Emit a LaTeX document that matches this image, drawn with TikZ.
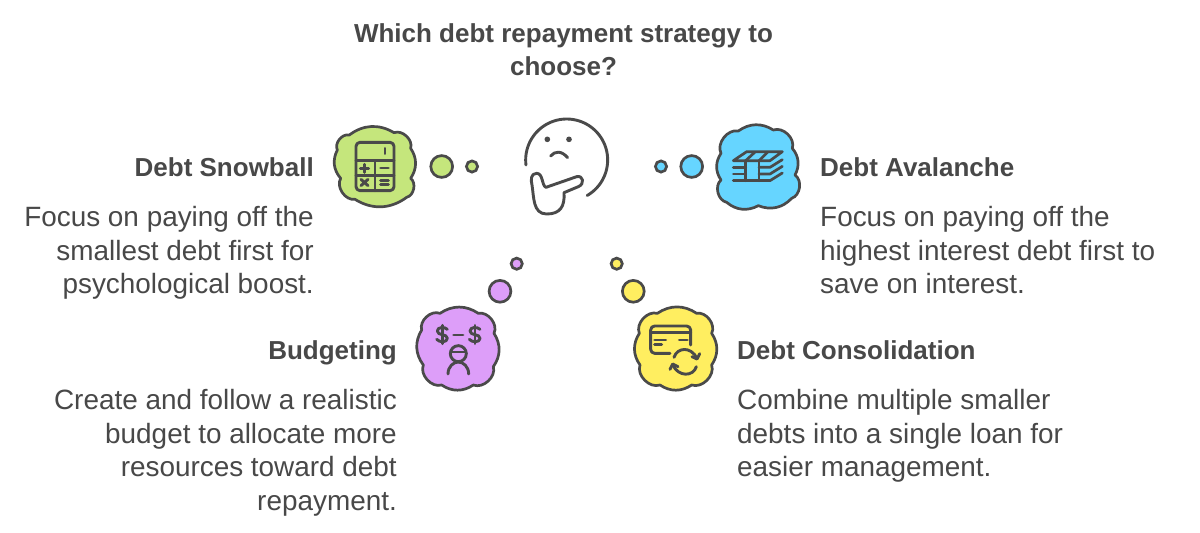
\documentclass[tikz,border=0pt]{standalone}
\usepackage{fontspec}
\setmainfont{Liberation Sans}
\definecolor{ink}{HTML}{4A4A4A}
\definecolor{txt}{HTML}{484848}
\definecolor{cgreen}{HTML}{C5E67C}
\definecolor{cblue}{HTML}{66D5FF}
\definecolor{cpurple}{HTML}{DD9EF9}
\definecolor{cyellow}{HTML}{FFEE60}
\tikzset{
  cloudshape/.style={draw=ink,line width=2.7pt,line join=round},
  glyph/.style={draw=ink,line width=2.9pt,line cap=round,line join=round},
  thin glyph/.style={draw=ink,line width=2.7pt,line cap=round,line join=round},
  bubble/.style={draw=ink,line width=2.7pt},
  facepen/.style={draw=ink,line width=2.9pt,line cap=round,line join=round},
  zoomframe/.style={x=0.33333pt,y=-0.33333pt},
  bodytext/.style={inner sep=0pt,text=txt,font=\fontsize{27.9}{33.5}\selectfont},
  headtext/.style={inner sep=0pt,text=txt,font=\fontsize{26}{33.5}\selectfont\bfseries},
  b/.style={bend left=34},
  c/.style={bend left=64}
}
\begin{document}
\begin{tikzpicture}[x=1pt,y=-1pt]
\useasboundingbox (0,0) rectangle (1200,533);
\fill[white] (0,0) rectangle (1200,533);

% title
\node[headtext,align=center,anchor=north] (title) at (563.5,23) {Which debt repayment strategy to\\choose?};

% labels
\node[headtext,anchor=base east] (snowhead) at (314,176) {Debt Snowball};
\node[bodytext,align=right,anchor=north east] (snowbody) at (314,206.4) {Focus on paying off the\\smallest debt first for\\psychological boost.};
\node[headtext,anchor=base west] (avahead) at (820,176) {Debt Avalanche};
\node[bodytext,align=left,anchor=north west] (avabody) at (820,206.4) {Focus on paying off the\\highest interest debt first to\\save on interest.};
\node[headtext,anchor=base east] (budhead) at (397,359) {Budgeting};
\node[bodytext,align=right,anchor=north east] (budbody) at (397,389.4) {Create and follow a realistic\\budget to allocate more\\resources toward debt\\repayment.};
\node[headtext,anchor=base west] (conhead) at (737,359) {Debt Consolidation};
\node[bodytext,align=left,anchor=north west] (conbody) at (737,389.4) {Combine multiple smaller\\debts into a single loan for\\easier management.};

% thinking face
\begin{scope}[shift={(510,110)},zoomframe]
  \draw[facepen] plot[domain=173:420,samples=70] ({170+123*cos(\x)},{150+123*sin(\x)});
  \fill[ink] (112,88) circle[radius=8.5];
  \fill[ink] (177,88) circle[radius=8.5];
  \draw[facepen] (122,138) .. controls (135,122) and (155,122) .. (173,143);
  \draw[facepen] (108,232) .. controls (95,228) and (100,190) .. (80,190)
     .. controls (62,190) and (62,210) .. (66,225)
     .. controls (72,260) and (68,312) .. (110,312)
     .. controls (150,312) and (165,290) .. (162,248)
     -- (205,230) .. controls (225,222) and (220,195) .. (200,200) -- cycle;
\end{scope}

% Debt Snowball cloud
\begin{scope}[shift={(320,110)},zoomframe]
  \draw[cloudshape,fill=cgreen] (88,75) to[b] (222,68) to[c] (272,115) to[b] (272,205) to[c] (260,262)
     to[b] (105,268) to[c] (62,205) to[b] (52,120) to[c] (88,75) -- cycle;
  \draw[glyph,rounded corners=4pt] (108,97) rectangle (222,242);
  \draw[glyph] (108,152) -- (222,152) (108,197) -- (222,197) (165,152) -- (165,242);
  \draw[glyph] (195,115) -- (195,131);
  \draw[glyph] (121,175) -- (146,175) (133,163) -- (133,187);
  \draw[glyph] (182,174) -- (205,174);
  \draw[glyph] (123,208) -- (144,227) (144,208) -- (123,227);
  \draw[glyph] (182,211) -- (205,211) (182,224) -- (205,224);
\end{scope}
\fill[cgreen,bubble] (441.7,166.5) circle[radius=10.9];
\fill[cgreen,bubble] (472,166.5) circle[radius=5.6];

% Debt Avalanche cloud
\begin{scope}[shift={(645,115)},zoomframe]
  \draw[cloudshape,fill=cblue] (280,48) to[b] (385,45) to[c] (442,100) to[b] (450,180) to[c] (440,250)
     to[b] (340,272) to[b] (245,262) to[c] (228,195) to[b] (228,115) to[c] (280,48) -- cycle;
  \draw[thin glyph] (265,137) -- (305,110) -- (412,110) -- (375,137) -- (265,137);
  \draw[thin glyph] (302,137) -- (330,111) (342,137) -- (368,111);
  \draw[thin glyph] (302,137) -- (302,197) (342,137) -- (342,197);
  \draw[thin glyph] (265,157) -- (302,157) (265,177) -- (302,177) (265,197) -- (375,197);
  \draw[thin glyph] (342,157) -- (375,157) -- (412,134);
  \draw[thin glyph] (342,177) -- (375,177) -- (412,154);
  \draw[thin glyph] (375,197) -- (412,174);
\end{scope}
\fill[cblue,bubble] (691.7,166.5) circle[radius=10.9];
\fill[cblue,bubble] (661,166.5) circle[radius=5.6];

% Budgeting cloud
\begin{scope}[shift={(410,250)},zoomframe]
  \draw[cloudshape,fill=cpurple] (90,190) to[b] (205,190) to[c] (252,250) to[b] (250,350) to[c] (190,405)
     to[b] (95,405) to[c] (40,345) to[b] (35,240) to[c] (90,190) -- cycle;
  \draw[glyph] (112,238) .. controls (105,230) and (82,230) .. (82,243)
     .. controls (82,258) and (112,250) .. (112,265) .. controls (112,278) and (88,278) .. (80,268);
  \draw[glyph] (97,226) -- (97,281);
  \draw[glyph] (210,238) .. controls (203,230) and (180,230) .. (180,243)
     .. controls (180,258) and (210,250) .. (210,265) .. controls (210,278) and (186,278) .. (178,268);
  \draw[glyph] (195,226) -- (195,281);
  \draw[glyph] (131,255) -- (159,255);
  \draw[glyph] (145,311) circle[radius=24];
  \draw[glyph] (124,306) -- (166,306);
  \draw[glyph] (114,372) .. controls (114,350) and (130,336) .. (145,336) .. controls (160,336) and (176,350) .. (176,372);
\end{scope}
\fill[cpurple,bubble] (500,291.3) circle[radius=10.9];
\fill[cpurple,bubble] (516.7,263.7) circle[radius=5.6];

% Debt Consolidation cloud
\begin{scope}[shift={(600,250)},zoomframe]
  \draw[cloudshape,fill=cyellow] (172,190) to[b] (290,190) to[c] (335,250) to[b] (335,345) to[c] (275,405)
     to[b] (180,405) to[c] (120,345) to[b] (118,250) to[c] (172,190) -- cycle;
  \draw[glyph,rounded corners=4pt] (210,310) -- (152,310) -- (152,228) -- (272,228) -- (272,285);
  \draw[glyph] (152,248) -- (272,248);
  \draw[glyph] (164,270) -- (197,270) (164,284) -- (185,284) (238,270) -- (262,270);
  \draw[glyph] (222,322) .. controls (232,292) and (272,288) .. (291,325);
  \draw[glyph] (299,311) -- (291,327) -- (276,320);
  \draw[glyph] (289,350) .. controls (280,380) and (235,382) .. (218,344);
  \draw[glyph] (210,358) -- (218,342) -- (234,350);
\end{scope}
\fill[cyellow,bubble] (633.3,291.3) circle[radius=10.9];
\fill[cyellow,bubble] (616.7,263.7) circle[radius=5.6];
\end{tikzpicture}
\end{document}
